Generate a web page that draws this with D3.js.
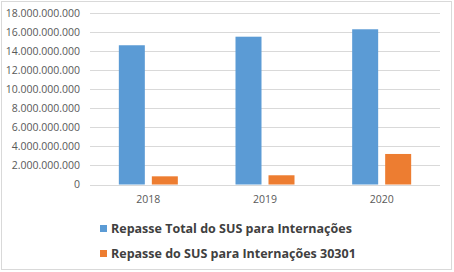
<!DOCTYPE html>
<html>
<head>
<meta charset="utf-8">
<script src="https://cdn.jsdelivr.net/npm/d3@7"></script>
<style>
  body { margin: 0; background: #fff; }
  svg { display: block; font-family: "Open Sans", "DejaVu Sans", sans-serif; }
</style>
</head>
<body>
<svg width="454" height="272"></svg>
<script>
// chart data
var years = ["2018", "2019", "2020"];
var seriesNames = ["Repasse Total do SUS para Internações", "Repasse do SUS para Internações 30301"];
var totalValues = [14640000000, 15540000000, 16320000000];
var value30301 = [860000000, 970000000, 3210000000];
var yTicks = [0, 2e9, 4e9, 6e9, 8e9, 10e9, 12e9, 14e9, 16e9, 18e9];
var colors = ["#5B9BD5", "#ED7D31"];

var svg = d3.select("svg");

// outer frame
svg.append("rect")
  .attr("x", 1.5).attr("y", 1.5)
  .attr("width", 450).attr("height", 268)
  .attr("fill", "#fff")
  .attr("stroke", "#d9d9d9");

var plot = { left: 90, right: 440, top: 13.3, bottom: 184.5 };

var x = d3.scaleBand().domain(years).range([plot.left, plot.right]).paddingInner(0).paddingOuter(0);
var y = d3.scaleLinear().domain([0, 18e9]).range([plot.bottom, plot.top]);

// thousand separator with dots
var fmt = function(v) { return d3.format(",")(v).replace(/,/g, "."); };

// gridlines
svg.append("g")
  .selectAll("line")
  .data(yTicks)
  .enter().append("line")
  .attr("x1", plot.left).attr("x2", plot.right)
  .attr("y1", function(d) { return Math.round(y(d)) + 0.5; })
  .attr("y2", function(d) { return Math.round(y(d)) + 0.5; })
  .attr("stroke", "#d9d9d9")
  .attr("stroke-width", 1);

// y labels
svg.append("g")
  .selectAll("text")
  .data(yTicks)
  .enter().append("text")
  .attr("x", 80)
  .attr("y", function(d) { return y(d); })
  .attr("dy", "0.35em")
  .attr("text-anchor", "end")
  .attr("font-size", "10.5px")
  .attr("fill", "#595959")
  .text(fmt);

// bars
var barW = 26, gap = 7;
var rows = years.map(function(yr, i) { return { year: yr, vals: [totalValues[i], value30301[i]] }; });

var groups = svg.append("g")
  .selectAll("g")
  .data(rows)
  .enter().append("g")
  .attr("transform", function(d) {
    var cx = x(d.year) + x.bandwidth() / 2;
    return "translate(" + (cx - barW - gap / 2) + ",0)";
  });

groups.selectAll("rect")
  .data(function(d) { return d.vals; })
  .enter().append("rect")
  .attr("x", function(d, i) { return i * (barW + gap); })
  .attr("y", function(d) { return y(d); })
  .attr("width", barW)
  .attr("height", function(d) { return y(0) - y(d); })
  .attr("fill", function(d, i) { return colors[i]; });

// x labels
svg.append("g")
  .selectAll("text")
  .data(years)
  .enter().append("text")
  .attr("x", function(d) { return x(d) + x.bandwidth() / 2; })
  .attr("y", 203)
  .attr("text-anchor", "middle")
  .attr("font-size", "10.5px")
  .attr("fill", "#595959")
  .text(function(d) { return d; });

// legend
var legend = svg.append("g")
  .selectAll("g")
  .data(seriesNames)
  .enter().append("g")
  .attr("transform", function(d, i) { return "translate(100," + (225 + i * 25) + ")"; });

legend.append("rect")
  .attr("width", 7).attr("height", 7)
  .attr("fill", function(d, i) { return colors[i]; });

legend.append("text")
  .attr("x", 11)
  .attr("y", 3.5)
  .attr("dy", "0.36em")
  .attr("font-size", "12.5px")
  .attr("font-weight", "bold")
  .attr("fill", "#404040")
  .text(function(d) { return d; });
</script>
</body>
</html>
